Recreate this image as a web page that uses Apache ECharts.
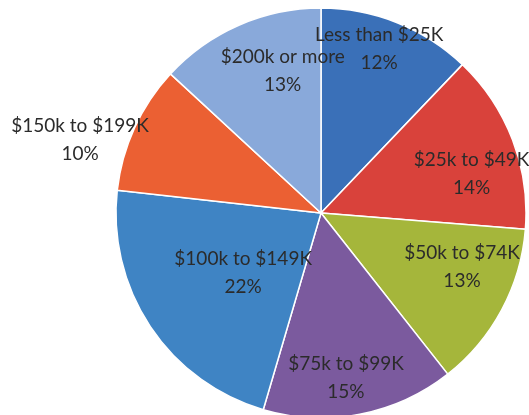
<!DOCTYPE html>
<html lang="en">
<head>
    <meta charset="UTF-8">
    <title>Household income</title>
    <script src="https://cdn.jsdelivr.net/npm/echarts@6/dist/echarts.min.js"></script>
    <style>
        html, body { margin: 0; padding: 0; background: #fff; }
        #main { width: 529px; height: 415px; }
    </style>
</head>
<body>
<div id="main"></div>
<script type="text/javascript">
    var categories = ['Less than $25K', '$25k to $49K', '$50k to $74K', '$75k to $99K',
                      '$100k to $149K', '$150k to $199K', '$200k or more'];
    var shares = [12, 14, 13, 15, 22, 10, 13];
    var colors = ['#3a70b8', '#d9423b', '#a5b63b', '#7b5a9e', '#3f84c4', '#eb6033', '#89a9da'];
    // label nudges away from the default inside position
    var nudges = [[19, -66], [52, -1], [48, 4], [5, 61], [10, 1], [-145, -29], [4, -45]];

    var pieData = [];
    for (var i = 0; i < categories.length; i++) {
        pieData.push({ name: categories[i], value: shares[i], itemStyle: { color: colors[i] } });
    }

    var myChart = echarts.init(document.getElementById('main'));
    var option = {
        animation: false,
        series: [
            {
                type: 'pie',
                center: [321, 213],
                radius: 205,
                startAngle: 90,
                data: pieData,
                itemStyle: { borderColor: '#ffffff', borderWidth: 1.5 },
                label: {
                    show: true,
                    position: 'inside',
                    rotate: 0,
                    formatter: function (p) { return p.name + '\n' + p.value + '%'; },
                    fontFamily: 'Lato',
                    fontSize: 19,
                    lineHeight: 28,
                    color: '#2b2b2b',
                    align: 'center'
                },
                labelLine: { show: false },
                labelLayout: function (params) {
                    var n = nudges[params.dataIndex];
                    return { dx: n[0], dy: n[1] };
                }
            }
        ]
    };
    myChart.setOption(option);
</script>
</body>
</html>
